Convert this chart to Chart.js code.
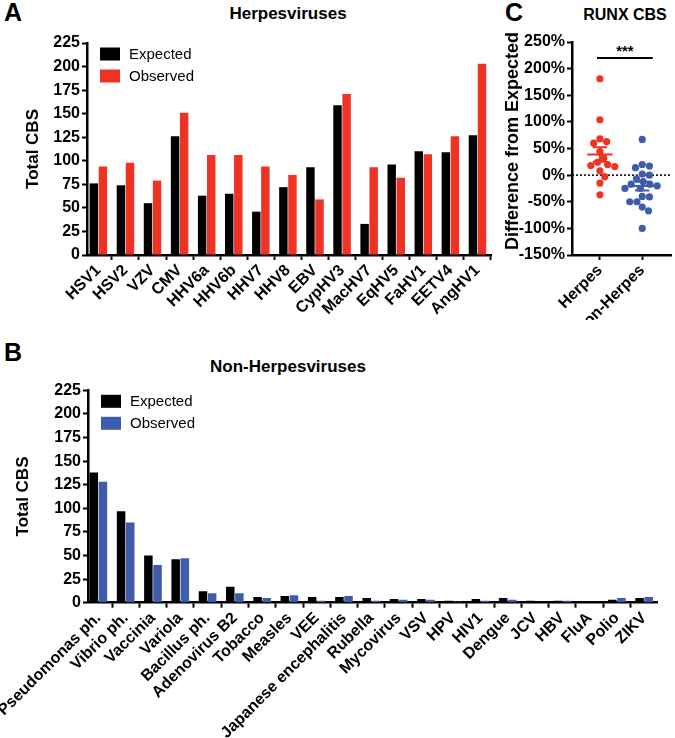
<!DOCTYPE html>
<html><head><meta charset="utf-8">
<script src="https://cdn.jsdelivr.net/npm/chart.js@4.4.1/dist/chart.umd.min.js"></script>
<style>
html,body{margin:0;padding:0;background:#fff;width:675px;height:738px;overflow:hidden;font-family:"Liberation Sans",Arial,Helvetica,sans-serif;color:#000;}
.abs{position:absolute;white-space:nowrap;}
.letter{font-weight:bold;font-size:25px;line-height:25px;}
.ttl{font-weight:bold;font-size:17px;line-height:17px;transform:translateX(-50%);}
canvas{position:absolute;}
</style></head><body>
<div class="abs letter" style="left:4px;top:0px">A</div>
<div class="abs ttl" style="left:288px;top:5px">Herpesviruses</div>
<div class="abs letter" style="left:505px;top:0px">C</div>
<div class="abs ttl" style="left:625px;top:7px;font-size:16px;line-height:16px">RUNX CBS</div>
<div class="abs letter" style="left:4px;top:340px">B</div>
<div class="abs ttl" style="left:288px;top:358px">Non-Herpesviruses</div>
<canvas id="cA" width="500" height="320" style="left:0;top:0"></canvas>
<canvas id="cC" width="195" height="320" style="left:480px;top:0"></canvas>
<canvas id="cB" width="675" height="358" style="left:0;top:380px"></canvas>
<script>
// ---------------- data ----------------
const herpesCategories = ['HSV1','HSV2','VZV','CMV','HHV6a','HHV6b','HHV7','HHV8','EBV','CypHV3','MacHV7','EqHV5','FaHV1','EETV4','AngHV1'];
const herpesExpected = [76,74,55,126,63,65,46,72,93,159,33,96,110,109,127];
const herpesObserved = [94,98,79,151,106,106,94,85,59,171,93,82,107,126,203];

const nonHerpesCategories = ['Pseudomonas ph.','Vibrio ph.','Vaccinia','Variola','Bacillus ph.','Adenovirus B2','Tobacco','Measles','VEE','Japanese encephalitis','Rubella','Mycovirus','VSV','HPV','HIV1','Dengue','JCV','HBV','FluA','Polio','ZIKV'];
const nonHerpesExpected = [138,97,50,46,12,17,6,7,6,6,5,4,4,2,4,5,2,2,0,3,5];
const nonHerpesObserved = [128,85,40,47,10,10,5,8,2,7,2,3,3,1,2,3,0,2,0,5,6];

const totalTicks = [0,25,50,75,100,125,150,175,200,225];

const runxGroups = ['Herpes','Non-Herpes'];
const runxHerpesDiff = [24,32,44,20,68,63,104,18,-37,8,181,-15,-3,16,60];
const runxNonHerpesDiff = [-7,-12,-20,2,-17,-41,-17,14,-67,17,-60,-25,-25,-50,-50,-40,-100,0,67,20];
const diffTicks = [-150,-100,-50,0,50,100,150,200,250];
const significance = '***';

// ---------------- styling ----------------
const FONT = '"Liberation Sans", Arial, Helvetica, sans-serif';
const RED = '#EE3224';
const BLUE = '#3D5CAB';
Chart.defaults.font.family = FONT;
Chart.defaults.color = '#000';

const insideLegend = {
  id:'insideLegend',
  afterDraw(chart, args, o){
    if(!o || !o.show) return;
    const {ctx, chartArea} = chart;
    ctx.save();
    ctx.font = o.fontSize + 'px ' + FONT;
    ctx.textBaseline = 'middle'; ctx.textAlign = 'left';
    chart.data.datasets.forEach((ds,i)=>{
      const x = chartArea.left + o.dx, y = chartArea.top + o.dy + i*o.pitch;
      ctx.fillStyle = ds.backgroundColor; ctx.fillRect(x, y, o.boxW, o.boxH);
      ctx.fillStyle = '#000'; ctx.fillText(ds.label, x + o.boxW + o.gap, y + o.boxH/2 + 0.5);
    });
    ctx.restore();
  }
};

const sigText = {
  id:'sigText',
  afterDatasetsDraw(chart, args, o){
    if(!o || !o.text) return;
    const ctx = chart.ctx;
    const x = chart.scales.x.getPixelForValue(o.x), y = chart.scales.y.getPixelForValue(o.y);
    ctx.save();
    ctx.font = 'bold 15px ' + FONT; ctx.fillStyle = '#000';
    ctx.textAlign = 'center'; ctx.textBaseline = 'alphabetic';
    ctx.fillText(o.text, x, y - o.gap);
    ctx.restore();
  }
};

function gridOpts(){ return {display:true, drawOnChartArea:false, drawTicks:true, tickLength:5, tickWidth:2, tickColor:'#000'}; }
function borderOpts(){ return {display:true, color:'#000', width:2.5}; }

function xAxis(labels, min, max, height){
  return {
    type:'linear', min, max, offset:false, z:1,
    afterBuildTicks: s => { s.ticks = labels.map((_,i)=>({value:i})); },
    afterFit: s => { s.height = height; s.paddingLeft = 0; s.paddingRight = 0; },
    ticks:{autoSkip:false, minRotation:45, maxRotation:45, padding:1, color:'#000',
      font:{family:FONT, size:16, weight:'bold'}, callback: v => labels[v]},
    grid:gridOpts(), border:borderOpts()
  };
}
function yAxis(tickVals, min, max, width, title, titleSize, titlePad, fmt){
  return {
    type:'linear', min, max, z:1,
    afterBuildTicks: s => { s.ticks = tickVals.map(v=>({value:v})); },
    afterFit: s => { s.width = width; s.paddingTop = 0; s.paddingBottom = 0; },
    ticks:{padding:2, color:'#000', font:{family:FONT, size:16, weight:'bold'}, callback: fmt},
    grid:gridOpts(), border:borderOpts(),
    title:{display:true, text:title, color:'#000', font:{family:FONT, size:titleSize, weight:'bold'}, padding:{top:titlePad, bottom:0}}
  };
}

function barChart(id, cats, exp, obs, obsColor, g){
  return new Chart(document.getElementById(id), {
    type:'bar',
    data:{datasets:[
      {label:'Expected', data: exp.map((y,i)=>({x:i, y})), backgroundColor:'#000'},
      {label:'Observed', data: obs.map((y,i)=>({x:i, y})), backgroundColor:obsColor}
    ]},
    options:{
      responsive:false, animation:false, events:[],
      categoryPercentage:0.67, barPercentage:0.93,
      layout:{padding:{left:0, top:g.padTop, right:g.padRight, bottom:0}},
      plugins:{legend:{display:false}, tooltip:{enabled:false},
        insideLegend:{show:true, dx:13, dy:4.5, pitch:22, boxW:20, boxH:13, gap:9, fontSize:15}},
      scales:{
        x: xAxis(cats, g.xMin, g.xMax, g.xHeight),
        y: yAxis(totalTicks, 0, 225, g.yWidth, 'Total CBS', 17, g.titlePad, v => v)
      }
    },
    plugins:[insideLegend]
  });
}

barChart('cA', herpesCategories, herpesExpected, herpesObserved, RED,
  {padTop:43, padRight:9, yWidth:87, xHeight:65, xMin:-0.42, xMax:14.5, titlePad:22.8});
barChart('cB', nonHerpesCategories, nonHerpesExpected, nonHerpesObserved, BLUE,
  {padTop:10.3, padRight:18, yWidth:88, xHeight:135.3, xMin:-0.38, xMax:20.47, titlePad:12.8});

// ---------------- panel C ----------------
const PX_PER_PCT = 213/400, PX_PER_GROUP = 44, DOT_GAP = 7.4;
function swarm(values, center){
  const order = values.map((v,i)=>i).sort((a,b)=>values[b]-values[a]);
  const placed = [], pts = new Array(values.length);
  order.forEach(i=>{
    const py = values[i]*PX_PER_PCT;
    let off = 0;
    for(let k=0;k<400;k++){
      const c = (k%2===1 ? 1 : -1) * Math.ceil(k/2) * 0.5;
      if(placed.every(p => (p.x-c)**2 + (p.y-py)**2 >= DOT_GAP*DOT_GAP)){ off = c; break; }
    }
    placed.push({x:off, y:py});
    pts[i] = {x:center + off/PX_PER_GROUP, y:values[i]};
  });
  return pts;
}
const mean = a => a.reduce((s,v)=>s+v,0)/a.length;
const sem = a => { const m = mean(a); return Math.sqrt(a.reduce((s,v)=>s+(v-m)*(v-m),0)/(a.length-1))/Math.sqrt(a.length); };
function meanSem(values, c){
  const m = mean(values), s = sem(values);
  return [
    {x:c-0.3,y:m},{x:c+0.3,y:m},{x:c,y:null},
    {x:c-0.17,y:m+s},{x:c+0.17,y:m+s},{x:c,y:null},
    {x:c-0.17,y:m-s},{x:c+0.17,y:m-s},{x:c,y:null},
    {x:c,y:m+s},{x:c,y:m-s}
  ];
}
const cMin = -0.66, cMax = 1.68;
const lineDs = (data, color, extra) => Object.assign({type:'scatter', data, showLine:true, spanGaps:false, pointRadius:0, borderColor:color, borderWidth:2, backgroundColor:color}, extra||{});

new Chart(document.getElementById('cC'), {
  type:'scatter',
  data:{datasets:[
    lineDs(meanSem(runxHerpesDiff, 0), RED),
    lineDs(meanSem(runxNonHerpesDiff, 1), BLUE),
    {data: swarm(runxHerpesDiff, 0), pointRadius:3.6, backgroundColor:RED, borderWidth:0},
    {data: swarm(runxNonHerpesDiff, 1), pointRadius:3.6, backgroundColor:BLUE, borderWidth:0},
    lineDs([{x:-0.07,y:220},{x:1.25,y:220}], '#000', {borderWidth:2}),
    lineDs([{x:cMin,y:0},{x:cMax,y:0}], '#000', {borderWidth:1.5, borderDash:[2,2]})
  ]},
  options:{
    responsive:false, animation:false, events:[],
    layout:{padding:{left:0, top:42, right:0, bottom:0}},
    plugins:{legend:{display:false}, tooltip:{enabled:false}, sigText:{text:significance, x:0.59, y:220, gap:1.5}},
    scales:{
      x: xAxis(runxGroups, cMin, cMax, 65),
      y: yAxis(diffTicks, -150, 250, 92, '   Difference from Expected', 18, 22.7, v => v + '%')
    }
  },
  plugins:[sigText]
});
</script>
</body></html>
